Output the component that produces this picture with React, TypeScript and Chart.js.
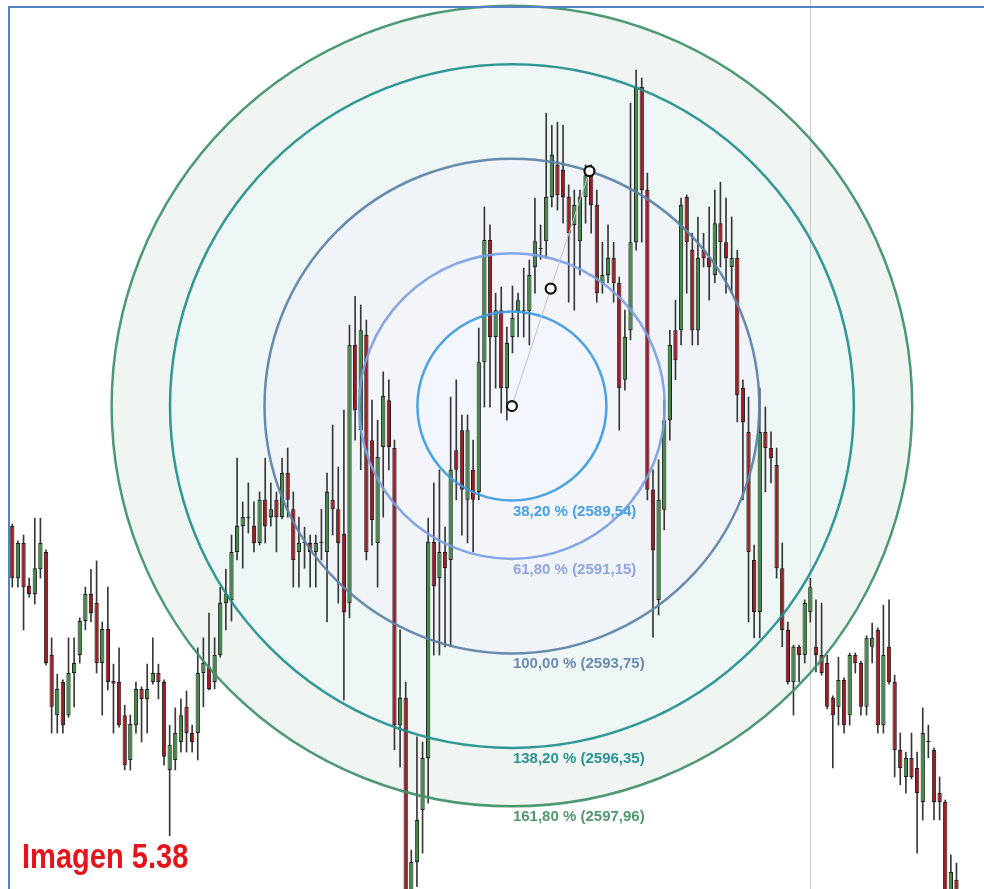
import React, { useEffect, useRef } from "react";
import { Chart, registerables } from "chart.js";

Chart.register(...registerables);

// ---- candle data (index = bar number, prices) ----
const opens = [
  2583.46, 2581.95, 2582.97, 2581.72, 2581.49, 2582.21, 2582.71, 2579.72, 2577.98, 2578.94,
  2577.98, 2579.20, 2579.72, 2580.71, 2581.49, 2581.23, 2579.49, 2580.48, 2578.97, 2578.94,
  2577.98, 2576.68, 2577.69, 2578.74, 2578.45, 2578.94, 2579.20, 2578.94, 2576.39, 2576.68,
  2577.20, 2578.22, 2577.46, 2577.46, 2579.20, 2579.37, 2578.94, 2579.72, 2581.23, 2581.32,
  2582.71, 2583.46, 2583.69, 2583.46, 2582.97, 2584.22, 2583.72, 2584.22, 2583.72, 2585.00,
  2583.95, 2582.71, 2582.97, 2582.97, 2582.71, 2582.97, 2582.71, 2584.22, 2583.95, 2583.23,
  2581.23, 2588.71, 2586.24, 2589.00, 2585.95, 2582.97, 2585.75, 2587.11, 2585.72, 2577.69,
  2578.48, 2572.62, 2573.72, 2575.23, 2576.74, 2583.00, 2581.95, 2582.71, 2582.48, 2585.66,
  2586.24, 2584.22, 2585.09, 2584.45, 2588.21, 2591.75, 2588.94, 2589.72, 2587.46, 2588.94,
  2589.69, 2589.69, 2589.69, 2590.97, 2591.49, 2591.72, 2593.00, 2593.93, 2593.78, 2593.00,
  2592.19, 2591.72, 2593.00, 2593.63, 2592.77, 2590.51, 2590.74, 2591.23, 2590.51, 2587.70,
  2589.14, 2591.69, 2596.19, 2593.20, 2584.51, 2581.32, 2583.93, 2586.53, 2589.14, 2589.14,
  2593.00, 2591.46, 2589.14, 2591.46, 2591.23, 2590.74, 2592.24, 2591.69, 2590.97, 2591.23,
  2587.46, 2586.19, 2582.48, 2580.97, 2586.19, 2585.72, 2585.23, 2582.24, 2580.45, 2578.94,
  2579.96, 2579.72, 2580.97, 2579.96, 2579.72, 2579.49, 2578.48, 2578.22, 2579.00, 2577.98,
  2579.72, 2579.49, 2578.22, 2579.96, 2580.45, 2577.69, 2579.96, 2578.94, 2576.97, 2576.19,
  2576.74, 2576.45, 2575.46, 2577.20, 2576.97, 2575.72, 2575.46, 2572.91, 2573.21,
];
const highs = [
  2583.52, 2583.03, 2583.20, 2581.95, 2583.69, 2583.69, 2582.77, 2580.22, 2579.17, 2579.00,
  2580.22, 2580.22, 2580.80, 2581.69, 2582.21, 2582.45, 2580.68, 2581.69, 2579.46, 2579.93,
  2578.27, 2577.98, 2578.94, 2578.80, 2579.46, 2580.22, 2579.46, 2579.00, 2577.69, 2578.19,
  2578.45, 2578.68, 2577.69, 2579.93, 2580.22, 2580.94, 2580.22, 2581.69, 2582.21, 2583.20,
  2585.43, 2584.16, 2584.71, 2584.16, 2584.45, 2585.43, 2584.71, 2584.45, 2585.43, 2585.72,
  2584.45, 2583.72, 2583.43, 2583.20, 2583.20, 2583.95, 2585.00, 2586.39, 2585.17, 2586.82,
  2589.29, 2590.12, 2589.87, 2589.43, 2587.11, 2586.53, 2587.93, 2587.70, 2585.95, 2580.45,
  2578.94, 2574.07, 2577.35, 2577.20, 2583.69, 2584.71, 2585.09, 2583.43, 2587.20, 2587.70,
  2586.68, 2586.68, 2585.95, 2589.20, 2592.71, 2592.19, 2590.21, 2590.39, 2589.23, 2590.42,
  2590.21, 2590.94, 2591.17, 2592.97, 2592.19, 2595.43, 2595.08, 2595.17, 2595.08, 2593.35,
  2593.20, 2593.20, 2593.93, 2593.93, 2593.20, 2591.69, 2592.19, 2591.69, 2590.68, 2589.72,
  2595.72, 2596.68, 2596.45, 2593.69, 2585.09, 2585.38, 2587.11, 2589.14, 2590.01, 2592.97,
  2593.06, 2591.95, 2592.42, 2591.95, 2592.71, 2593.20, 2593.43, 2592.97, 2592.42, 2591.46,
  2587.70, 2587.20, 2582.91, 2587.46, 2586.91, 2586.19, 2585.72, 2582.97, 2580.68, 2580.01,
  2580.01, 2581.32, 2581.95, 2581.32, 2581.23, 2579.72, 2578.54, 2579.66, 2579.06, 2579.78,
  2579.78, 2579.55, 2580.28, 2580.65, 2580.51, 2581.17, 2581.32, 2579.14, 2577.46, 2576.91,
  2577.46, 2576.91, 2578.19, 2577.69, 2577.03, 2576.19, 2575.52, 2573.93, 2573.69,
];
const lows = [
  2581.69, 2581.69, 2580.45, 2581.40, 2581.20, 2581.95, 2579.43, 2577.46, 2577.46, 2577.46,
  2577.92, 2578.22, 2579.49, 2580.45, 2580.68, 2579.20, 2577.98, 2578.71, 2577.46, 2577.63,
  2576.39, 2576.39, 2577.46, 2577.20, 2577.46, 2578.88, 2578.45, 2576.53, 2574.48, 2576.39,
  2576.91, 2576.91, 2576.91, 2576.68, 2578.22, 2578.71, 2578.74, 2579.66, 2580.45, 2580.71,
  2582.48, 2582.24, 2583.26, 2582.71, 2582.91, 2582.97, 2583.46, 2582.71, 2583.67, 2583.72,
  2581.69, 2581.69, 2582.24, 2581.69, 2581.69, 2582.48, 2580.68, 2583.20, 2581.23, 2578.42,
  2580.80, 2585.95, 2585.09, 2582.48, 2582.91, 2581.69, 2583.72, 2585.09, 2576.97, 2576.47,
  2572.47, 2572.47, 2573.01, 2573.98, 2575.43, 2579.72, 2579.72, 2579.96, 2579.96, 2584.22,
  2583.20, 2582.97, 2582.71, 2584.22, 2586.91, 2586.91, 2587.46, 2586.74, 2586.53, 2588.48,
  2588.94, 2588.94, 2588.71, 2590.21, 2591.19, 2591.22, 2592.71, 2592.62, 2592.24, 2589.95,
  2589.72, 2590.74, 2592.24, 2591.95, 2589.95, 2590.21, 2590.51, 2589.95, 2586.24, 2587.40,
  2588.86, 2591.46, 2591.69, 2584.22, 2580.24, 2580.88, 2583.35, 2585.95, 2587.70, 2588.71,
  2590.21, 2588.71, 2588.71, 2590.97, 2590.01, 2590.51, 2590.97, 2590.21, 2590.21, 2586.48,
  2584.22, 2580.68, 2580.22, 2580.22, 2584.45, 2584.71, 2581.95, 2579.96, 2578.88, 2577.98,
  2578.94, 2579.49, 2580.68, 2579.23, 2579.14, 2578.16, 2576.45, 2577.69, 2577.46, 2577.69,
  2579.20, 2577.98, 2577.98, 2579.49, 2577.46, 2577.46, 2578.88, 2576.19, 2575.96, 2575.72,
  2576.13, 2573.98, 2574.94, 2576.74, 2574.94, 2574.94, 2572.62, 2572.62, 2572.62,
];
const closes = [
  2581.95, 2582.97, 2581.69, 2581.49, 2582.24, 2582.97, 2579.49, 2578.22, 2578.74, 2577.69,
  2579.20, 2579.49, 2580.71, 2581.49, 2580.94, 2579.49, 2580.48, 2578.94, 2578.89, 2577.69,
  2576.53, 2577.72, 2578.74, 2578.45, 2578.74, 2579.20, 2578.94, 2576.77, 2577.12, 2577.46,
  2577.98, 2577.46, 2577.20, 2579.20, 2579.49, 2578.74, 2579.72, 2581.23, 2581.49, 2582.71,
  2583.46, 2583.72, 2583.72, 2582.97, 2584.22, 2583.46, 2583.95, 2583.72, 2585.00, 2584.22,
  2582.48, 2582.97, 2583.00, 2582.71, 2582.97, 2583.00, 2584.45, 2583.95, 2582.97, 2580.97,
  2588.71, 2586.82, 2589.14, 2582.71, 2583.64, 2585.46, 2587.23, 2585.75, 2577.69, 2578.48,
  2572.62, 2573.72, 2574.94, 2576.74, 2583.00, 2581.72, 2582.71, 2582.24, 2585.09, 2585.09,
  2584.51, 2586.24, 2584.22, 2588.21, 2591.75, 2588.94, 2589.72, 2587.46, 2588.77, 2589.49,
  2590.01, 2589.72, 2590.74, 2591.72, 2591.52, 2593.00, 2594.22, 2593.06, 2593.00, 2591.95,
  2592.77, 2593.00, 2593.63, 2592.77, 2590.21, 2590.74, 2591.23, 2590.51, 2587.46, 2588.94,
  2591.69, 2596.19, 2593.20, 2584.51, 2582.77, 2584.22, 2586.53, 2588.71, 2588.27, 2592.77,
  2591.69, 2589.14, 2591.23, 2591.23, 2590.97, 2592.24, 2591.69, 2591.23, 2591.23, 2587.26,
  2586.48, 2582.71, 2580.97, 2586.19, 2585.72, 2585.43, 2582.24, 2580.45, 2578.94, 2579.96,
  2579.72, 2581.23, 2581.69, 2579.72, 2579.20, 2578.22, 2577.98, 2579.00, 2577.69, 2579.72,
  2579.49, 2578.22, 2580.22, 2580.22, 2577.69, 2579.72, 2578.94, 2576.97, 2576.45, 2576.74,
  2576.19, 2575.72, 2577.46, 2577.23, 2575.46, 2575.46, 2572.76, 2573.43, 2572.76,
];

// ---- Fibonacci circles ----
const fibLevels = [38.2, 61.8, 100, 138.2, 161.8];
const fibCenter = { x: 88.9, y: 2586.94 }; // anchor 0 %
const fibEdge = { x: 102.7, y: 2593.75 }; // anchor 100 %
const cursorIndex = 142;

// visible range
const xRange = { min: -2.189, max: 172.9 };
const yRange = { min: 2572.94, max: 2598.71 };

const caption = "Imagen 5.38";

// ---- styles ----
const circleStroke = ["#3c9ae0", "#7a9de4", "#5b81a8", "#1f8e8e", "#3e9066"];
const circleFill = ["#f3f6fc", "#f4f4fb", "#f0f4f8", "#eef6f6", "#f0f5f1"];
const labelColor = ["#47a0e4", "#8fa6de", "#6d8bb0", "#2a9393", "#52976e"];
const upColor = "#3f8c42";
const downColor = "#a01a20";

const fmt = (v: number) => v.toFixed(2).replace(".", ",");

const fibPlugin = {
  id: "fibCircles",
  beforeDatasetsDraw(chart: any) {
    const { ctx, scales } = chart;
    const x = scales.x, y = scales.y;
    const cx = x.getPixelForValue(fibCenter.x);
    const cy = y.getPixelForValue(fibCenter.y);
    const ex = x.getPixelForValue(fibEdge.x);
    const ey = y.getPixelForValue(fibEdge.y);
    const R = Math.hypot(ex - cx, ey - cy);
    ctx.save();
    for (let i = fibLevels.length - 1; i >= 0; i--) {
      ctx.beginPath();
      ctx.arc(cx, cy, (R * fibLevels[i]) / 100, 0, Math.PI * 2);
      ctx.fillStyle = circleFill[i];
      ctx.fill();
    }
    const vx = Math.round(x.getPixelForValue(cursorIndex)) + 0.5;
    ctx.strokeStyle = "#c9c9c9";
    ctx.lineWidth = 1;
    ctx.beginPath();
    ctx.moveTo(vx, 0);
    ctx.lineTo(vx, chart.height);
    ctx.stroke();
    ctx.restore();
  },
  afterDatasetsDraw(chart: any) {
    const { ctx, scales } = chart;
    const x = scales.x, y = scales.y;
    const cx = x.getPixelForValue(fibCenter.x);
    const cy = y.getPixelForValue(fibCenter.y);
    const ex = x.getPixelForValue(fibEdge.x);
    const ey = y.getPixelForValue(fibEdge.y);
    const R = Math.hypot(ex - cx, ey - cy);
    ctx.save();
    ctx.globalAlpha = 0.92;
    ctx.lineWidth = 2.5;
    fibLevels.forEach((lv, i) => {
      ctx.beginPath();
      ctx.arc(cx, cy, (R * lv) / 100, 0, Math.PI * 2);
      ctx.strokeStyle = circleStroke[i];
      ctx.stroke();
    });
    ctx.globalAlpha = 1;
    ctx.font = 'bold 15px "Liberation Sans", Arial, sans-serif';
    ctx.textBaseline = "alphabetic";
    ctx.textAlign = "left";
    fibLevels.forEach((lv, i) => {
      const r = (R * lv) / 100;
      const price = fibCenter.y + ((fibEdge.y - fibCenter.y) * lv) / 100;
      ctx.fillStyle = labelColor[i];
      ctx.fillText(`${fmt(lv)} % (${fmt(price)})`, cx + 1, cy + r + 15);
    });
    // trend line and anchors
    ctx.strokeStyle = "#c4c4c4";
    ctx.lineWidth = 1;
    ctx.beginPath();
    ctx.moveTo(cx, cy);
    ctx.lineTo(ex, ey);
    ctx.stroke();
    const pts = [
      [cx, cy],
      [(cx + ex) / 2, (cy + ey) / 2],
      [ex, ey],
    ];
    pts.forEach(([px, py]) => {
      ctx.beginPath();
      ctx.arc(px, py, 5, 0, Math.PI * 2);
      ctx.fillStyle = "#ffffff";
      ctx.fill();
      ctx.lineWidth = 2.2;
      ctx.strokeStyle = "#111111";
      ctx.stroke();
    });
    ctx.restore();
  },
};

export default function App() {
  const ref = useRef<HTMLCanvasElement | null>(null);

  useEffect(() => {
    if (!ref.current) return;
    const idx = opens.map((_, i) => i);
    const wickData = idx.map((i) => ({ x: i, y: [lows[i], highs[i]] }));
    const bodyData = idx.map((i) => ({ x: i, y: [opens[i], closes[i]] }));
    const bodyColors = idx.map((i) => (closes[i] >= opens[i] ? upColor : downColor));

    const chart = new Chart(ref.current, {
      type: "bar",
      data: {
        datasets: [
          {
            label: "wick",
            data: wickData as any,
            backgroundColor: "#383838",
            borderWidth: 0,
            barThickness: 1,
            grouped: false,
            order: 2,
          } as any,
          {
            label: "body",
            data: bodyData as any,
            backgroundColor: bodyColors,
            borderColor: "#1e1e1e",
            borderWidth: 1,
            borderSkipped: false,
            barThickness: 4.3,
            inflateAmount: 0,
            grouped: false,
            order: 1,
          } as any,
        ],
      },
      options: {
        animation: false,
        responsive: false,
        maintainAspectRatio: false,
        events: [],
        layout: { padding: 0 },
        plugins: { legend: { display: false }, tooltip: { enabled: false } },
        scales: {
          x: {
            type: "linear",
            min: xRange.min,
            max: xRange.max,
            offset: false,
            display: false,
          },
          y: { type: "linear", min: yRange.min, max: yRange.max, display: false },
        },
      } as any,
      plugins: [fibPlugin],
    });
    return () => chart.destroy();
  }, []);

  return (
    <div
      style={{
        position: "absolute",
        left: 0,
        top: 0,
        width: 984,
        height: 889,
        overflow: "hidden",
        background: "#ffffff",
      }}
    >
      <canvas ref={ref} width={984} height={889} style={{ display: "block" }} />
      <div
        style={{
          position: "absolute",
          left: 8,
          top: 6,
          width: 976,
          height: 883,
          borderTop: "2px solid #5283c9",
          borderLeft: "2px solid #5283c9",
          boxSizing: "border-box",
          pointerEvents: "none",
        }}
      />
      <div
        style={{
          position: "absolute",
          left: 22,
          top: 838,
          fontFamily: '"Liberation Sans", Arial, sans-serif',
          fontWeight: "bold",
          fontSize: 35,
          lineHeight: "35px",
          color: "#e3141c",
          whiteSpace: "nowrap",
          transform: "scaleX(0.83)",
          transformOrigin: "0 0",
        }}
      >
        {caption}
      </div>
    </div>
  );
}
